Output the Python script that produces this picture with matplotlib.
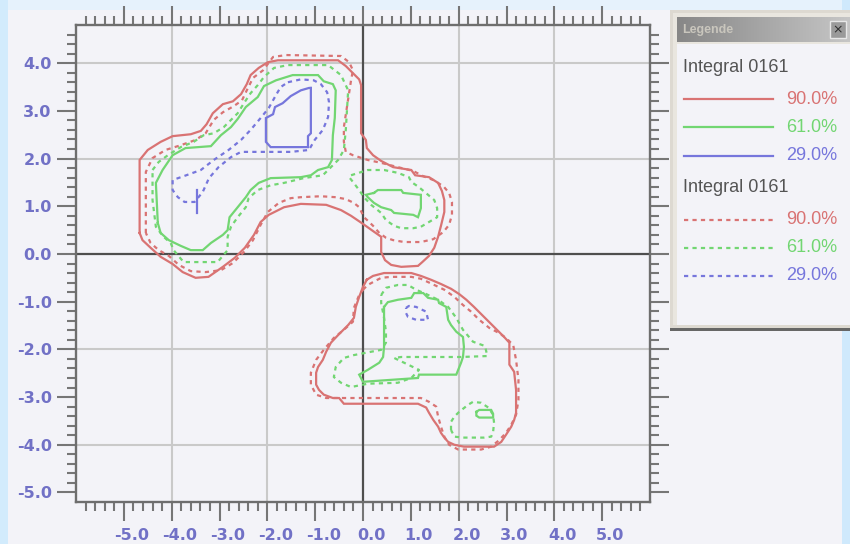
import numpy as np
import matplotlib
matplotlib.use("Agg")
import matplotlib.pyplot as plt
from matplotlib.patches import Rectangle
from matplotlib.ticker import FixedLocator
import matplotlib.transforms as mtransforms

# ---------------------------------------------------------------- data
level_labels = ["90.0%", "61.0%", "29.0%"]
series_titles = ["Integral 0161", "Integral 0161"]

# --- first integral (solid lines) ---
s1_90_upper = [(-4.67, 0.44), (-4.67, 1.97), (-4.50, 2.18), (-4.23, 2.35), (-3.98, 2.47), (-3.60, 2.51),
               (-3.39, 2.58), (-3.27, 2.72), (-3.14, 2.95), (-2.93, 3.14), (-2.72, 3.20), (-2.55, 3.35),
               (-2.43, 3.56), (-2.35, 3.75), (-2.18, 3.90), (-1.99, 4.02), (-1.78, 4.06), (-0.52, 4.06),
               (-0.36, 3.94), (-0.21, 3.79), (-0.08, 3.66), (-0.04, 3.54), (-0.04, 2.53), (0.06, 2.39),
               (0.08, 2.22), (0.21, 2.07), (0.38, 1.95), (0.63, 1.82), (1.01, 1.76), (1.09, 1.65),
               (1.38, 1.61), (1.57, 1.49), (1.65, 1.32), (1.70, 1.13), (1.70, 0.88), (1.63, 0.59),
               (1.57, 0.36), (1.49, 0.13), (1.38, -0.04), (1.24, -0.17), (1.15, -0.25), (0.80, -0.27),
               (0.59, -0.23), (0.46, -0.13), (0.38, 0.04), (0.38, 0.36), (0.21, 0.48), (0.00, 0.63),
               (-0.25, 0.80), (-0.46, 0.92), (-0.77, 1.03), (-1.30, 1.05), (-1.65, 0.98), (-1.97, 0.82),
               (-2.14, 0.67), (-2.28, 0.40), (-2.47, 0.13), (-2.68, -0.08), (-2.93, -0.27), (-3.23, -0.48),
               (-3.50, -0.50), (-3.77, -0.38), (-3.98, -0.21), (-4.23, -0.06), (-4.44, 0.13), (-4.61, 0.29)]
s1_90_lower = [(0.08, -0.54), (0.21, -0.46), (0.44, -0.40), (1.01, -0.40), (1.21, -0.46), (1.42, -0.54),
               (1.63, -0.63), (1.84, -0.73), (2.01, -0.84), (2.16, -0.96), (2.32, -1.11), (2.53, -1.32),
               (2.74, -1.53), (2.95, -1.74), (3.06, -1.86), (3.06, -2.32), (3.16, -2.47), (3.20, -2.85),
               (3.20, -3.33), (3.16, -3.48), (3.10, -3.62), (2.99, -3.79), (2.89, -3.94), (2.74, -4.04),
               (2.11, -4.04), (1.91, -4.00), (1.78, -3.94), (1.70, -3.85), (1.63, -3.75), (1.57, -3.62),
               (1.47, -3.48), (1.38, -3.33), (1.32, -3.22), (1.15, -3.14), (-0.40, -3.14), (-0.50, -3.02),
               (-0.63, -3.02), (-0.82, -2.95), (-0.92, -2.85), (-0.98, -2.74), (-0.98, -2.49), (-0.94, -2.37),
               (-0.84, -2.22), (-0.77, -2.05), (-0.67, -1.86), (-0.52, -1.70), (-0.31, -1.49), (-0.19, -1.34),
               (-0.15, -1.11), (-0.08, -0.90), (0.00, -0.69)]
s1_61_upper = [(-4.29, 0.65), (-4.33, 1.49), (-4.19, 1.76), (-3.98, 2.07), (-3.71, 2.22), (-3.18, 2.26),
               (-2.97, 2.49), (-2.76, 2.66), (-2.62, 2.83), (-2.45, 3.08), (-2.20, 3.29), (-2.07, 3.52),
               (-1.82, 3.64), (-1.47, 3.75), (-0.94, 3.75), (-0.82, 3.62), (-0.63, 3.56), (-0.57, 3.43),
               (-0.59, 2.85), (-0.63, 2.49), (-0.65, 1.97), (-0.73, 1.82), (-0.94, 1.76), (-1.09, 1.65),
               (-1.30, 1.61), (-1.93, 1.59), (-2.18, 1.49), (-2.35, 1.34), (-2.45, 1.19), (-2.62, 0.98),
               (-2.79, 0.77), (-2.83, 0.50), (-2.93, 0.40), (-3.18, 0.23), (-3.35, 0.08), (-3.60, 0.08),
               (-3.81, 0.17), (-4.06, 0.29), (-4.23, 0.44)]
s1_61_right = [(0.23, 1.28), (0.31, 1.34), (0.80, 1.34), (0.84, 1.28), (1.21, 1.24), (1.21, 0.96),
               (1.15, 0.77), (1.05, 0.82), (0.65, 0.86), (0.59, 0.92), (0.38, 0.98), (0.23, 1.07),
               (0.10, 1.19), (0.06, 1.24)]
s1_61_lower = [(0.44, -1.11), (0.52, -1.01), (0.73, -0.96), (1.01, -0.92), (1.07, -0.82), (1.26, -0.82),
               (1.36, -0.92), (1.57, -0.96), (1.59, -1.03), (1.74, -1.11), (1.78, -1.38), (1.84, -1.49),
               (1.95, -1.63), (2.09, -1.74), (2.11, -1.95), (2.09, -2.16), (2.05, -2.28), (1.99, -2.43),
               (1.95, -2.53), (1.17, -2.53), (1.15, -2.60), (0.00, -2.68), (-0.08, -2.53), (0.10, -2.43),
               (0.34, -2.28), (0.42, -2.16), (0.44, -1.95)]
s1_61_small = [(2.37, -3.31), (2.43, -3.27), (2.68, -3.27), (2.72, -3.35), (2.72, -3.43), (2.43, -3.43),
               (2.37, -3.39)]
s1_29_upper = [(-1.09, 3.48), (-1.09, 2.53), (-1.15, 2.47), (-1.15, 2.24), (-1.93, 2.24), (-2.03, 2.35),
               (-2.03, 2.85), (-1.88, 2.93), (-1.84, 3.08), (-1.68, 3.16), (-1.51, 3.31), (-1.30, 3.43),
               (-1.13, 3.48)]
s1_29_spur = [(-3.46, 1.34), (-3.46, 0.86)]

# --- second integral (dotted lines) ---
s2_90_upper = [(-4.54, 0.44), (-4.54, 1.72), (-4.40, 2.01), (-4.13, 2.18), (-3.81, 2.28), (-3.50, 2.39),
               (-3.29, 2.53), (-3.12, 2.81), (-2.93, 2.97), (-2.70, 3.10), (-2.53, 3.22), (-2.43, 3.43),
               (-2.30, 3.69), (-2.09, 3.85), (-1.88, 4.13), (-1.61, 4.17), (-0.46, 4.15), (-0.29, 4.02),
               (-0.21, 3.85), (-0.25, 3.64), (-0.40, 2.66), (-0.40, 2.35), (-0.36, 2.14), (-0.21, 2.07),
               (0.10, 1.97), (0.38, 1.91), (0.73, 1.82), (1.05, 1.74), (1.26, 1.63), (1.47, 1.55),
               (1.68, 1.42), (1.80, 1.28), (1.86, 1.09), (1.86, 0.82), (1.80, 0.61), (1.68, 0.46),
               (1.47, 0.31), (1.21, 0.25), (0.86, 0.25), (0.63, 0.29), (0.48, 0.34), (0.34, 0.44),
               (0.23, 0.57), (0.13, 0.67), (0.02, 0.77), (-0.08, 0.98), (-0.19, 1.07), (-0.36, 1.15),
               (-0.57, 1.19), (-0.88, 1.21), (-1.30, 1.19), (-1.51, 1.17), (-1.76, 1.07), (-1.99, 0.88),
               (-2.14, 0.61), (-2.30, 0.29), (-2.49, 0.04), (-2.72, -0.19), (-2.97, -0.34), (-3.29, -0.38),
               (-3.60, -0.36), (-3.85, -0.23), (-4.06, -0.04), (-4.27, 0.08), (-4.44, 0.23)]
s2_90_lower = [(0.00, -0.75), (0.10, -0.65), (0.21, -0.59), (0.38, -0.50), (0.59, -0.48), (1.01, -0.48),
               (1.21, -0.52), (1.49, -0.65), (1.70, -0.75), (1.91, -0.90), (2.09, -1.07), (2.26, -1.21),
               (2.43, -1.38), (2.64, -1.55), (2.83, -1.65), (2.99, -1.76), (3.14, -1.91), (3.20, -2.22),
               (3.25, -2.64), (3.25, -3.06), (3.20, -3.37), (3.10, -3.58), (2.99, -3.75), (2.85, -3.90),
               (2.68, -4.04), (2.47, -4.10), (1.99, -4.10), (1.80, -4.00), (1.70, -3.83), (1.63, -3.62),
               (1.57, -3.41), (1.53, -3.20), (1.38, -3.10), (1.21, -3.02), (-0.77, -3.02), (-0.98, -2.95),
               (-1.09, -2.74), (-1.09, -2.49), (-0.98, -2.22), (-0.82, -2.01), (-0.61, -1.76), (-0.40, -1.59),
               (-0.21, -1.42), (-0.19, -1.13), (-0.08, -0.86)]
s2_61_upper = [(-4.40, 1.76), (-4.27, 1.93), (-4.08, 2.07), (-3.81, 2.24), (-3.54, 2.35), (-3.33, 2.49),
               (-3.12, 2.53), (-2.91, 2.66), (-2.76, 2.81), (-2.62, 2.95), (-2.49, 3.16), (-2.35, 3.37),
               (-2.20, 3.54), (-2.07, 3.71), (-1.86, 3.90), (-1.57, 3.96), (-0.73, 3.96), (-0.46, 3.75),
               (-0.31, 3.43), (-0.36, 2.60), (-0.40, 2.18), (-0.52, 1.97), (-0.84, 1.65), (-1.24, 1.59),
               (-1.65, 1.49), (-1.93, 1.44), (-2.20, 1.34), (-2.39, 1.17), (-2.45, 0.98), (-2.62, 0.77),
               (-2.76, 0.57), (-2.83, 0.36), (-2.83, 0.08), (-3.04, -0.17), (-3.75, -0.17), (-3.96, 0.08),
               (-4.02, 0.23), (-4.17, 0.36), (-4.33, 0.57), (-4.40, 1.13)]
s2_61_right = [(-0.25, 1.65), (0.10, 1.76), (0.44, 1.76), (0.73, 1.70), (0.96, 1.61), (1.01, 1.51),
               (1.17, 1.40), (1.36, 1.24), (1.49, 1.13), (1.55, 0.96), (1.55, 0.77), (1.38, 0.67),
               (1.21, 0.57), (1.05, 0.54), (0.80, 0.54), (0.65, 0.59), (0.48, 0.71), (0.38, 0.86),
               (0.17, 1.03), (0.02, 1.19), (-0.08, 1.34), (-0.21, 1.51), (-0.29, 1.61)]
s2_61_lower = [(0.38, -0.86), (0.48, -0.71), (0.73, -0.65), (0.94, -0.65), (1.11, -0.75), (1.32, -0.84),
               (1.57, -0.96), (1.78, -1.11), (1.95, -1.34), (2.09, -1.59), (2.30, -1.84), (2.55, -1.93),
               (2.60, -2.14), (2.05, -2.16), (1.63, -2.16), (1.21, -2.16), (0.80, -2.16), (0.65, -2.18),
               (0.90, -2.30), (1.17, -2.43), (1.01, -2.60), (0.73, -2.70), (0.10, -2.72), (-0.25, -2.79),
               (-0.46, -2.70), (-0.61, -2.58), (-0.57, -2.37), (-0.40, -2.18), (-0.19, -2.12), (0.17, -2.05),
               (0.38, -2.01), (0.48, -1.86), (0.48, -1.63), (0.44, -1.34), (0.38, -1.03)]
s2_61_small = [(1.84, -3.69), (1.84, -3.52), (1.91, -3.41), (2.01, -3.31), (2.20, -3.16), (2.30, -3.10),
               (2.47, -3.12), (2.62, -3.22), (2.72, -3.37), (2.74, -3.54), (2.72, -3.73), (2.68, -3.83),
               (2.53, -3.85), (2.09, -3.85), (1.91, -3.83)]
s2_29_upper = [(-1.57, 3.60), (-1.30, 3.66), (-1.03, 3.64), (-0.88, 3.56), (-0.75, 3.39), (-0.71, 3.18),
               (-0.73, 2.87), (-0.84, 2.60), (-1.01, 2.39), (-1.13, 2.18), (-1.51, 2.14), (-1.97, 2.14),
               (-2.35, 2.14), (-2.55, 2.14), (-2.76, 2.03), (-3.02, 1.82), (-3.22, 1.59), (-3.35, 1.30),
               (-3.52, 1.09), (-3.73, 1.09), (-3.87, 1.19), (-3.98, 1.34), (-3.98, 1.55), (-3.75, 1.63),
               (-3.39, 1.76), (-3.12, 1.97), (-2.81, 2.18), (-2.55, 2.39), (-2.35, 2.60), (-2.14, 2.85),
               (-1.97, 3.06), (-1.82, 3.33), (-1.72, 3.50)]
s2_29_lower = [(0.90, -1.13), (0.96, -1.09), (1.11, -1.11), (1.32, -1.21), (1.36, -1.38), (1.11, -1.38),
               (0.94, -1.32), (0.90, -1.24)]

integral_1 = {"90.0%": [s1_90_upper, s1_90_lower],
              "61.0%": [s1_61_upper, s1_61_right, s1_61_lower, s1_61_small],
              "29.0%": [s1_29_upper, s1_29_spur]}
integral_2 = {"90.0%": [s2_90_upper, s2_90_lower],
              "61.0%": [s2_61_upper, s2_61_right, s2_61_lower, s2_61_small],
              "29.0%": [s2_29_upper, s2_29_lower]}

x_ticks = [-5, -4, -3, -2, -1, 0, 1, 2, 3, 4, 5]
y_ticks = [-5, -4, -3, -2, -1, 0, 1, 2, 3, 4]

# ---------------------------------------------------------------- style
level_colors = {"90.0%": "#d97373", "61.0%": "#72d672", "29.0%": "#7676dc"}
line_styles = [dict(linestyle="-", linewidth=1.6),
               dict(linestyle=(0, (1.9, 1.9)), linewidth=1.6)]
panel = "#f3f3f8"
tick_grey = "#767676"
label_blue = "#7171c6"

W, H = 850, 544
fig = plt.figure(figsize=(W / 100, H / 100), dpi=100, facecolor="#e6f2fc")

# window background pieces
fig.patches.append(Rectangle((0, 0), 8 / W, 1, transform=fig.transFigure,
                             facecolor="#d2ebfc", edgecolor="none", zorder=-3))
fig.patches.append(Rectangle((842 / W, 0), 8 / W, 1, transform=fig.transFigure,
                             facecolor="#cfe9fc", edgecolor="none", zorder=-3))
fig.patches.append(Rectangle((8 / W, 0), 834 / W, 534 / H, transform=fig.transFigure,
                             facecolor=panel, edgecolor="none", zorder=-2))

ax = fig.add_axes([76 / W, 1 - 502 / H, 574 / W, 477 / H])
ax.set_facecolor(panel)
ax.set_xlim(-6, 6)
ax.set_ylim(-5.2, 4.8)

# grid every two units, zero axes in dark grey
for v in (-4, -2, 2, 4):
    ax.axvline(v, color="#c9c9c9", lw=1.5, zorder=0.5)
    ax.axhline(v, color="#c9c9c9", lw=1.5, zorder=0.5)
ax.axvline(0, color="#4e4e4e", lw=1.6, zorder=0.6)
ax.axhline(0, color="#4e4e4e", lw=1.6, zorder=0.6)

for series, style in zip([integral_1, integral_2], line_styles):
    for lvl in level_labels:
        for path in series[lvl]:
            arr = np.asarray(path, dtype=float)
            if len(arr) > 2:
                arr = np.vstack([arr, arr[:1]])
            ax.plot(arr[:, 0], arr[:, 1], color=level_colors[lvl], zorder=2,
                    solid_joinstyle="miter", dash_capstyle="butt", **style)

# axes frame and ticks
for sp in ax.spines.values():
    sp.set_color("#6e6e6e")
    sp.set_linewidth(1.7)

ax.set_xticks(x_ticks)
ax.set_yticks(y_ticks)
ax.set_xticklabels([f"{v:.1f}" for v in x_ticks])
ax.set_yticklabels([f"{v:.1f}" for v in y_ticks])
minor_x = [round(v, 1) for v in np.arange(-5.8, 5.81, 0.2) if abs(v - round(v)) > 1e-6]
minor_y = [round(v, 1) for v in np.arange(-5.0, 4.61, 0.2) if abs(v - round(v)) > 1e-6]
ax.xaxis.set_minor_locator(FixedLocator(minor_x))
ax.yaxis.set_minor_locator(FixedLocator(minor_y))
ax.tick_params(which="major", direction="out", length=13.5, width=1.5, color=tick_grey,
               top=True, right=True, labelsize=11.5, labelcolor=label_blue)
ax.tick_params(axis="x", which="major", pad=5)
ax.tick_params(axis="y", which="major", pad=4)
ax.tick_params(which="minor", direction="out", length=6.5, width=1.5, color=tick_grey,
               top=True, right=True)
shift = mtransforms.ScaledTranslation(8 / 100, 0, fig.dpi_scale_trans)
for lbl in ax.get_xticklabels():
    lbl.set_fontweight("bold")
    lbl.set_family("DejaVu Sans")
    lbl.set_transform(lbl.get_transform() + shift)
for lbl in ax.get_yticklabels():
    lbl.set_fontweight("bold")
    lbl.set_family("DejaVu Sans")

# ---------------------------------------------------------------- legend window
lax = fig.add_axes([670 / W, 1 - 331 / H, 180 / W, 321 / H])
lax.set_xlim(0, 180)
lax.set_ylim(321, 0)
lax.axis("off")
lax.add_patch(Rectangle((0, 0), 180, 321, facecolor="#ddd9d1", edgecolor="none"))
lax.add_patch(Rectangle((3, 3), 177, 312, facecolor="#e9e6df", edgecolor="none"))
lax.add_patch(Rectangle((0, 318), 180, 3, facecolor="#666666", edgecolor="none"))
lax.add_patch(Rectangle((7, 34), 173, 281, facecolor=panel, edgecolor="none"))
grad = np.linspace(0, 1, 256).reshape(1, -1)
lax.imshow(grad, extent=(7, 180, 32, 7), aspect="auto", cmap=matplotlib.colors.LinearSegmentedColormap.from_list(
    "title", ["#878787", "#c6c6c6"]), zorder=1)
lax.text(12, 20, "Legende", color="#c9c6bd", fontsize=9, va="center", ha="left",
         family="Liberation Sans", fontweight="bold", zorder=2)
lax.add_patch(Rectangle((160, 11), 16, 17, facecolor="#9a9a9a", edgecolor="#e8e8e8", lw=1.0, zorder=2))
lax.text(168, 19.5, "×", color="#2e2e2e", fontsize=9, ha="center", va="center", zorder=3)

row_y = [[89, 117, 146], [210, 238, 266]]
title_y = [58, 178]
for k, (title, style) in enumerate(zip(series_titles, line_styles)):
    lax.text(13, title_y[k], title, color="#545454", fontsize=13, ha="left", va="center",
             family="Liberation Sans")
    for lvl, yy in zip(level_labels, row_y[k]):
        lax.plot([14, 103], [yy, yy], color=level_colors[lvl], dash_capstyle="butt", **style)
        lax.text(167, yy, lvl, color=level_colors[lvl], fontsize=13, ha="right", va="center",
                 family="Liberation Sans")

fig.savefig("out.png", dpi=100, facecolor=fig.get_facecolor())
